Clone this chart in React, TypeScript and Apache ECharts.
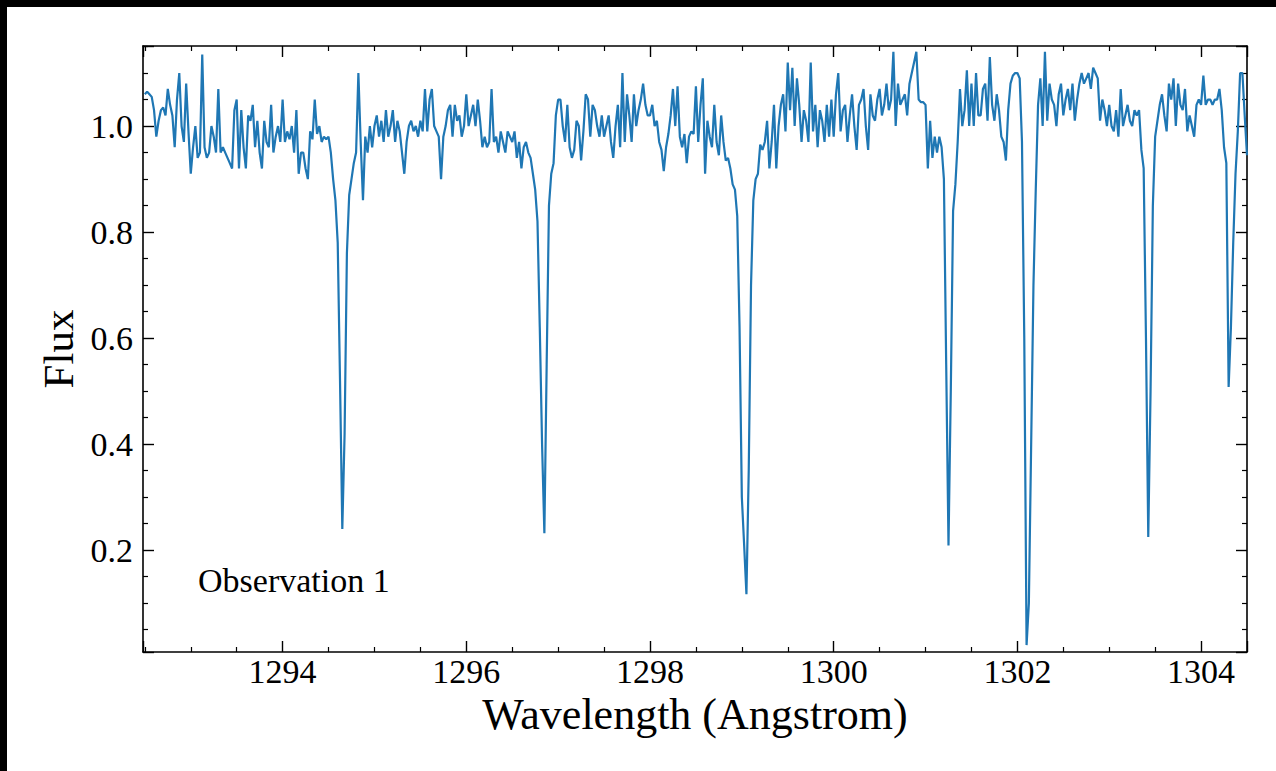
import React, { useEffect, useRef } from "react";
import * as echarts from "echarts";

// Spectrum sampled on a uniform wavelength grid (Angstrom)
const WAVE_START = 1292.5;
const WAVE_STEP = 0.025;

// Flux values, one row per 0.5 Angstrom
const flux: number[] = [
  // 1292.5
  1.06, 1.065, 1.06, 1.055, 1.03, 0.98, 1.01, 1.03, 1.035, 1.02, 1.07, 1.04, 1.02, 0.96, 1.05, 1.10, 1.00, 0.97, 1.08, 0.99,
  // 1293.0
  0.91, 0.96, 1.00, 0.94, 0.95, 1.135, 0.96, 0.94, 0.95, 1.00, 0.98, 0.95, 1.07, 0.95, 0.96, 0.95, 0.94, 0.93, 0.92, 1.03,
  // 1293.5
  1.05, 0.92, 1.03, 0.96, 0.92, 1.02, 1.01, 1.04, 0.96, 1.01, 0.95, 0.92, 1.01, 0.97, 0.96, 1.04, 0.95, 0.98, 1.00, 0.97,
  // 1294.0
  1.05, 0.97, 0.99, 0.975, 1.00, 0.95, 1.03, 0.91, 0.95, 0.95, 0.92, 0.90, 0.99, 0.975, 1.05, 0.985, 1.00, 0.97, 0.98, 0.975,
  // 1294.5
  0.98, 0.95, 0.90, 0.86, 0.78, 0.52, 0.24, 0.42, 0.76, 0.87, 0.90, 0.93, 0.95, 1.10, 0.97, 0.86, 0.98, 0.95, 1.00, 0.96,
  // 1295.0
  1.00, 1.02, 0.98, 1.01, 0.97, 1.03, 0.98, 1.00, 1.03, 0.97, 1.01, 0.99, 0.95, 0.91, 0.97, 1.00, 1.01, 0.99, 1.00, 0.98,
  // 1295.5
  1.01, 0.99, 1.07, 0.99, 1.05, 1.07, 1.00, 0.99, 0.98, 0.90, 0.98, 1.00, 1.03, 1.04, 0.98, 1.04, 1.01, 1.02, 0.98, 1.00,
  // 1296.0
  1.06, 1.00, 1.02, 1.04, 1.00, 1.05, 1.01, 0.96, 0.98, 0.96, 0.97, 1.07, 0.97, 0.98, 0.95, 0.99, 0.97, 0.95, 0.99, 0.98,
  // 1296.5
  0.97, 0.99, 0.94, 0.97, 0.92, 0.96, 0.97, 0.95, 0.94, 0.91, 0.88, 0.82, 0.62, 0.40, 0.232, 0.55, 0.85, 0.91, 0.93, 1.02,
  // 1297.0
  1.05, 1.05, 1.00, 0.97, 1.04, 0.96, 0.94, 0.955, 1.01, 1.00, 0.935, 0.99, 1.06, 1.05, 0.98, 1.04, 1.03, 1.00, 0.98, 1.02,
  // 1297.5
  0.98, 1.00, 1.02, 0.97, 0.94, 1.00, 1.04, 0.96, 1.10, 0.97, 1.06, 1.02, 0.97, 1.06, 1.00, 1.03, 1.05, 1.08, 1.04, 1.02,
  // 1298.0
  1.02, 1.04, 1.00, 1.01, 0.97, 0.955, 0.915, 0.96, 0.985, 1.02, 1.07, 1.00, 1.075, 0.98, 0.96, 0.985, 0.93, 0.98, 0.99, 0.985,
  // 1298.5
  1.075, 0.97, 1.04, 1.09, 0.91, 1.01, 0.98, 0.96, 1.04, 0.97, 0.945, 1.02, 0.97, 0.935, 0.94, 0.92, 0.89, 0.88, 0.83, 0.62,
  // 1299.0
  0.30, 0.21, 0.117, 0.35, 0.70, 0.86, 0.90, 0.91, 0.965, 0.955, 0.97, 1.01, 0.92, 0.97, 1.04, 0.92, 1.00, 1.04, 1.06, 0.99,
  // 1299.5
  1.12, 1.03, 1.11, 1.00, 1.09, 1.04, 0.97, 1.03, 1.01, 0.97, 1.12, 0.99, 1.04, 0.96, 1.03, 1.01, 0.97, 1.04, 0.98, 1.05,
  // 1300.0
  0.98, 1.06, 1.10, 0.99, 1.03, 1.04, 0.97, 1.02, 1.06, 1.00, 0.955, 1.04, 1.05, 1.07, 1.00, 0.955, 1.06, 1.02, 1.01, 1.05,
  // 1300.5
  1.07, 1.02, 1.04, 1.08, 1.03, 1.05, 1.14, 1.00, 1.08, 1.04, 1.05, 1.06, 1.02, 1.08, 1.10, 1.12, 1.14, 1.05, 1.045, 1.045,
  // 1301.0
  1.04, 0.92, 1.01, 0.94, 0.98, 0.95, 0.98, 0.96, 0.90, 0.55, 0.209, 0.50, 0.84, 0.89, 0.97, 1.07, 1.00, 1.03, 1.105, 1.00,
  // 1301.5
  1.08, 1.00, 1.10, 1.02, 1.02, 1.07, 1.08, 1.01, 1.13, 1.04, 1.01, 1.06, 1.03, 0.98, 0.97, 0.935, 1.03, 1.08, 1.095, 1.10,
  // 1302.0
  1.10, 1.09, 0.97, 0.60, 0.021, 0.10, 0.40, 0.70, 0.88, 1.04, 1.09, 1.00, 1.14, 1.01, 1.08, 1.05, 1.04, 1.00, 1.06, 1.08,
  // 1302.5
  1.02, 1.05, 1.07, 1.03, 1.08, 1.01, 1.05, 1.08, 1.10, 1.08, 1.09, 1.10, 1.07, 1.11, 1.10, 1.09, 1.01, 1.05, 1.03, 1.00,
  // 1303.0
  1.04, 1.00, 0.99, 1.03, 0.98, 1.07, 1.00, 1.02, 1.04, 1.01, 1.00, 1.03, 1.02, 1.03, 0.955, 0.92, 0.60, 0.225, 0.50, 0.85,
  // 1303.5
  0.98, 1.01, 1.04, 1.06, 1.02, 0.99, 1.08, 1.05, 1.09, 1.00, 1.08, 1.04, 1.03, 1.07, 0.99, 1.02, 1.00, 0.98, 1.04, 1.05,
  // 1304.0
  1.04, 1.095, 1.04, 1.05, 1.05, 1.04, 1.05, 1.05, 1.07, 1.03, 0.96, 0.93, 0.508, 0.62, 0.78, 0.91, 0.99, 1.10, 1.10, 1.02,
  // 1304.5
  0.945,
];

const X_MIN = 1292.48;
const X_MAX = 1304.5;
const Y_MIN = 0.008;
const Y_MAX = 1.151;
const X_TICK_STEP = 2;
const Y_TICK_STEP = 0.2;

const X_TITLE = "Wavelength (Angstrom)";
const Y_TITLE = "Flux";
const NOTE = "Observation 1";

const FONT = '"Liberation Serif", "Times New Roman", serif';

const isMultiple = (v: number, step: number) =>
  Math.abs(v / step - Math.round(v / step)) < 1e-6;

function makeAxis(position: string, showLabel: boolean, step: number, decimals: number, min: number, max: number) {
  return {
    type: "value",
    position,
    min,
    max,
    minInterval: step,
    maxInterval: step,
    axisLine: { show: true, onZero: false, lineStyle: { color: "#000", width: 1.6 } },
    axisTick: { show: true, inside: true, length: 11, lineStyle: { color: "#000", width: 1.4 } },
    minorTick: { show: true, splitNumber: 4, length: 5, lineStyle: { color: "#000", width: 1.2 } },
    splitLine: { show: false },
    minorSplitLine: { show: false },
    axisLabel: showLabel
      ? {
          show: true,
          color: "#000",
          fontFamily: FONT,
          fontSize: 34,
          margin: position === "bottom" ? 2 : 10,
          showMinLabel: false,
          showMaxLabel: false,
          formatter: (v: number) => (isMultiple(v, step) ? v.toFixed(decimals) : ""),
        }
      : { show: false },
  };
}

export default function App() {
  const ref = useRef<HTMLDivElement>(null);

  useEffect(() => {
    if (!ref.current) return;
    const chart = echarts.init(ref.current, null, { renderer: "svg" });
    const data = flux.map((f, i) => [Math.round((WAVE_START + i * WAVE_STEP) * 1000) / 1000, f]);

    const xBottom: any = makeAxis("bottom", true, X_TICK_STEP, 0, X_MIN, X_MAX);
    xBottom.name = X_TITLE;
    xBottom.nameLocation = "middle";
    xBottom.nameGap = 37;
    xBottom.nameTextStyle = { color: "#000", fontFamily: FONT, fontSize: 44 };
    const xTop: any = makeAxis("top", false, X_TICK_STEP, 0, X_MIN, X_MAX);

    const yLeft: any = makeAxis("left", true, Y_TICK_STEP, 1, Y_MIN, Y_MAX);
    yLeft.name = Y_TITLE;
    yLeft.nameLocation = "middle";
    yLeft.nameGap = 61;
    yLeft.nameTextStyle = { color: "#000", fontFamily: FONT, fontSize: 43 };
    const yRight: any = makeAxis("right", false, Y_TICK_STEP, 1, Y_MIN, Y_MAX);

    chart.setOption({
      animation: false,
      backgroundColor: "#ffffff",
      grid: { left: 143, top: 46, right: 29, bottom: 119 },
      xAxis: [xBottom, xTop],
      yAxis: [yLeft, yRight],
      series: [
        {
          type: "line",
          xAxisIndex: 0,
          yAxisIndex: 0,
          data,
          symbol: "none",
          showSymbol: false,
          silent: true,
          clip: true,
          lineStyle: { color: "#1f77b4", width: 2.2 },
        },
      ],
      graphic: [
        {
          type: "text",
          left: 198,
          top: 563,
          style: { text: NOTE, fill: "#000", font: `34px ${FONT}` },
        },
        { type: "rect", shape: { x: 0, y: 0, width: 1276, height: 7 }, style: { fill: "#000" }, z: 100 },
        { type: "rect", shape: { x: 0, y: 0, width: 7, height: 771 }, style: { fill: "#000" }, z: 100 },
      ],
    });
    return () => chart.dispose();
  }, []);

  return (
    <div
      ref={ref}
      style={{ position: "fixed", left: 0, top: 0, width: 1276, height: 771, background: "#fff" }}
    />
  );
}
